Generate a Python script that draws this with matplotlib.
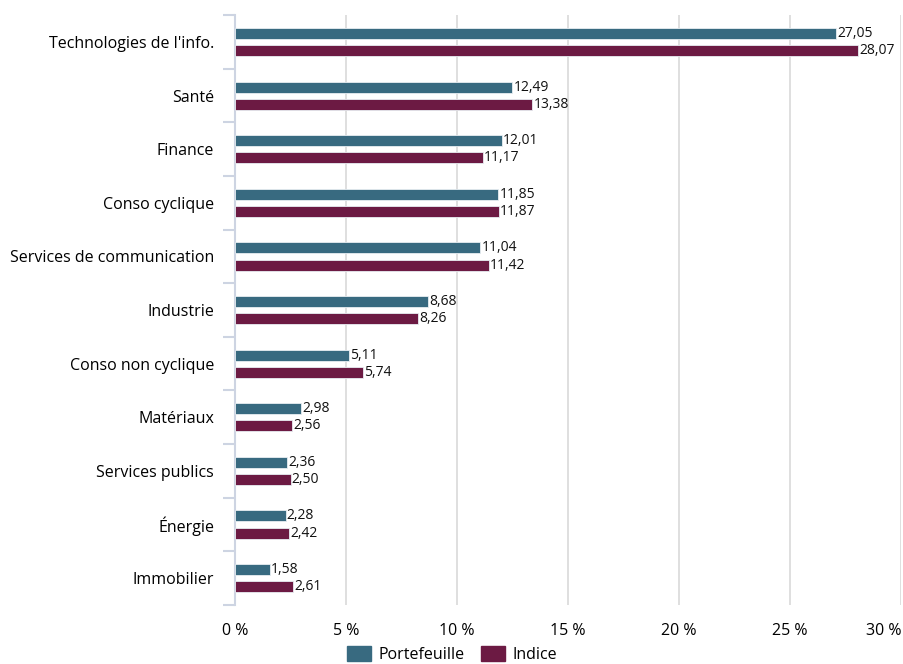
import matplotlib
matplotlib.use("Agg")
from matplotlib import pyplot as plt
from matplotlib.patches import Patch
import numpy as np

plt.rcParams['font.family'] = ['Open Sans', 'DejaVu Sans']

# data
categories = ["Technologies de l'info.", "Santé", "Finance", "Conso cyclique",
              "Services de communication", "Industrie", "Conso non cyclique",
              "Matériaux", "Services publics", "Énergie", "Immobilier"]
portefeuille = [27.05, 12.49, 12.01, 11.85, 11.04, 8.68, 5.11, 2.98, 2.36, 2.28, 1.58]
indice = [28.07, 13.38, 11.17, 11.87, 11.42, 8.26, 5.74, 2.56, 2.50, 2.42, 2.61]
xticks = [0, 5, 10, 15, 20, 25, 30]

c_port = "#386A80"
c_ind = "#6C1A43"
light = "#CDD4E2"

fig = plt.figure(figsize=(9.04, 6.64), dpi=100)
ax = fig.add_axes([0.26, 0.089, 0.737, 0.888])

y = np.arange(len(categories))
h = 0.205
off = 0.16
b1 = ax.barh(y - off, portefeuille, height=h, color=c_port, edgecolor="#E8EEF2", linewidth=0.6, zorder=3)
b2 = ax.barh(y + off, indice, height=h, color=c_ind, edgecolor="#E8EEF2", linewidth=0.6, zorder=3)

def fmt(v):
    return f"{v:.2f}".replace(".", ",")

for bars, vals in ((b1, portefeuille), (b2, indice)):
    for rect, v in zip(bars, vals):
        ax.text(v + 0.05, rect.get_y() + rect.get_height() / 2, fmt(v),
                va="center", ha="left", fontsize=10, color="#111111", zorder=4)

ax.set_xlim(0, 30)
ax.set_ylim(len(categories) - 0.5, -0.5)
ax.set_xticks(xticks)
labels = ax.set_xticklabels([f"{t} %" for t in xticks], fontsize=11.5)
labels[-1].set_horizontalalignment("right")
ax.set_yticks(y)
ax.set_yticklabels(categories, fontsize=11.5)
ax.set_yticks(np.arange(-0.5, len(categories), 1), minor=True)
ax.tick_params(axis="y", which="major", length=0, pad=15)
ax.tick_params(axis="y", which="minor", length=9, color=light, width=1.5)
ax.tick_params(axis="x", length=0, pad=13)

ax.grid(axis="x", color="#D9D9D9", linewidth=1.2, zorder=0)
for s in ("top", "right", "bottom"):
    ax.spines[s].set_visible(False)
ax.spines["left"].set_color(light)
ax.spines["left"].set_linewidth(1.5)

handles = [Patch(color=c_port, label="Portefeuille"), Patch(color=c_ind, label="Indice")]
fig.legend(handles=handles, loc="lower center", bbox_to_anchor=(0.5, -0.02), ncol=2,
           frameon=False, fontsize=11.5, handlelength=1.5, handleheight=1.1, columnspacing=1.0,
           handletextpad=0.5)

fig.savefig("out.png", dpi=100)
